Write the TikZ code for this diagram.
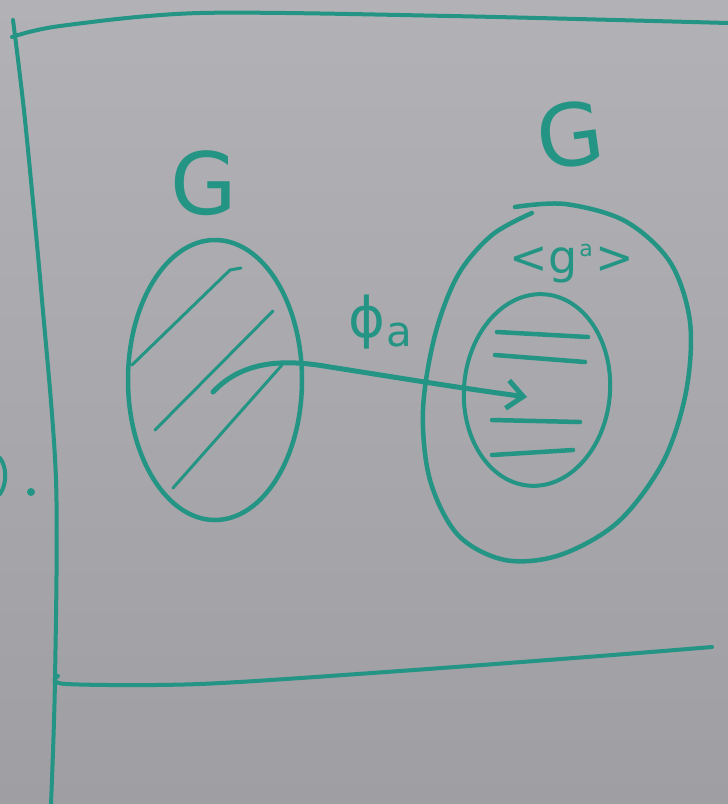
\documentclass[tikz,border=0pt]{standalone}
\usepackage{fontspec}
\newfontfamily\handfont{DejaVu Sans}
\usetikzlibrary{shapes.geometric,arrows.meta}
\definecolor{marker}{RGB}{36,148,132}
\definecolor{boardtop}{RGB}{178,178,182}
\definecolor{boardbot}{RGB}{158,158,163}
\begin{document}
\begin{tikzpicture}[x=1pt,y=-1pt,
  mk/.style={draw=marker, line width=4.5pt, line cap=round, line join=round},
  blob/.style={mk, ellipse, inner sep=0pt, outer sep=0pt},
  hatch/.style={draw=marker, line width=3pt, line cap=round, line join=round},
  framestroke/.style={draw=marker, line width=4pt, line cap=round},
  lbl/.style={text=marker, inner sep=0pt, font=\handfont}]
\useasboundingbox (0,0) rectangle (728,804);
\shade[top color=boardtop,bottom color=boardbot] (0,0) rectangle (728,804);

% frame
\draw[framestroke] plot[smooth] coordinates {(12,37) (60,26) (200,13) (450,16) (728,23)};
\draw[framestroke] plot[smooth] coordinates {(13,20) (25,120) (42,300) (56,480) (55,680) (51,804)};
\draw[framestroke] plot[smooth] coordinates {(58,676) (66,684) (200,684) (400,671) (600,656) (712,647)};

% cut-off mark at left edge
\draw[mk, line width=4pt] (0,458) .. controls (7,467) and (7,484) .. (0,494);
\fill[marker] (31,492) circle (4);

% sets
\node[blob, minimum width=174pt, minimum height=280pt] (left) at (215,380) {};
\draw[mk] plot[smooth, tension=0.55] coordinates {(532,213) (492,235) (458,275) (435,335)
  (423,410) (430,480) (458,535) (505,560) (560,555) (618,522) (663,462) (686,392)
  (690,322) (670,262) (625,221) (565,204) (515,207)};
\node[blob, line width=4pt, minimum width=146pt, minimum height=192pt, rotate=-5] (inner) at (537,390) {};

% hatching in left set
\draw[hatch] (132,365) -- (230,270) -- (241,268);
\draw[hatch] (155,430) -- (273,311);
\draw[hatch] (173,488) -- (282,365);

% hatching in subgroup
\draw[mk] (497,332) -- (588,337);
\draw[mk] (495,355) -- (585,362);
\draw[mk] (492,420) -- (580,422);
\draw[mk] (492,455) -- (573,450);

% labels
\node[lbl, font=\handfont\fontsize{86}{86}\selectfont] (Gl) at (204,183) {G};
\node[lbl, font=\handfont\fontsize{86}{86}\selectfont, rotate=8] (Gr) at (570,135) {G};
\node[lbl, font=\handfont\fontsize{56}{56}\selectfont] (phi) at (380,322)
  {ϕ\kern1pt\raisebox{-9pt}{\fontsize{42}{42}\selectfont a}};
\node[lbl, font=\handfont\fontsize{46}{46}\selectfont] (gen) at (572,264)
  {<g\kern2pt\raisebox{17pt}{\fontsize{22}{22}\selectfont a}\kern3pt>};

% map arrow
\coordinate (ast) at (213,392);
\coordinate (aend) at (527,397);
\draw[mk, line width=5pt, -{Straight Barb[length=16pt,width=28pt]}]
  (ast) .. controls (245,358) and (290,360) .. (330,367)
        .. controls (400,378) and (460,388) .. (aend);
\end{tikzpicture}
\end{document}
